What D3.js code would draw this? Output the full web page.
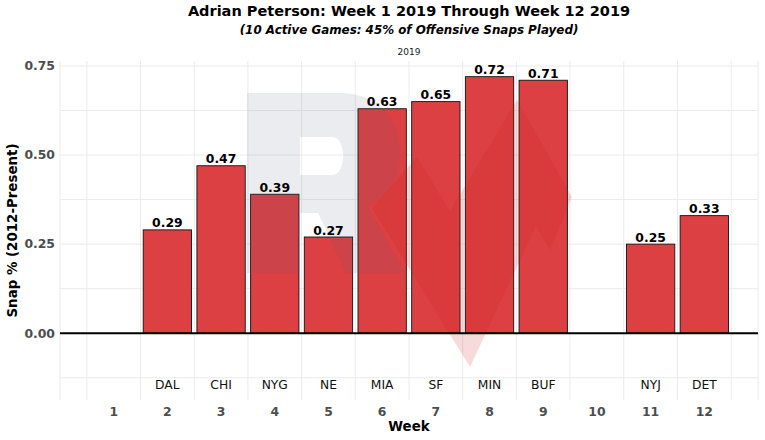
<!DOCTYPE html>
<html>
<head>
<meta charset="utf-8">
<script src="https://cdn.jsdelivr.net/npm/d3@7"></script>
<style>
  html, body { margin: 0; padding: 0; background: #fff; }
  svg { display: block; font-family: "DejaVu Sans", sans-serif; }
</style>
</head>
<body>
<svg id="chart" width="765" height="440"></svg>
<script>
// ---- data ----
const weeks = [2, 3, 4, 5, 6, 7, 8, 9, 11, 12];
const opponents = ["DAL", "CHI", "NYG", "NE", "MIA", "SF", "MIN", "BUF", "NYJ", "DET"];
const snapPct = [0.29, 0.47, 0.39, 0.27, 0.63, 0.65, 0.72, 0.71, 0.25, 0.33];
const weekTicks = [1, 2, 3, 4, 5, 6, 7, 8, 9, 10, 11, 12];
const yTicks = [0, 0.25, 0.5, 0.75];
const yMinorTicks = [-0.125, 0.125, 0.375, 0.625];
const titleText = "Adrian Peterson: Week 1 2019 Through Week 12 2019";
const subtitleText = "(10 Active Games: 45% of Offensive Snaps Played)";
const stripText = "2019";

const data = weeks.map((w, i) => ({ week: w, opp: opponents[i], pct: snapPct[i] }));

// ---- layout ----
const svg = d3.select("#chart");
const L = 60, R = 758, T = 61, B = 400;
const x = d3.scaleLinear().domain([0, 13]).range([L, R]);
const y = d3.scaleLinear().domain([-0.1875, 0.764]).range([B, T]);
const barW = (x(1) - x(0)) * 0.9;
const labelY = -0.145;

// grid
const grid = svg.append("g");
const vLines = [0].concat(d3.range(0.5, 13, 1)).concat([13]);
grid.selectAll("line.v").data(vLines).enter().append("line")
  .attr("x1", d => x(d)).attr("x2", d => x(d))
  .attr("y1", T).attr("y2", B)
  .attr("stroke", "#ebebeb").attr("stroke-width", 1);
grid.selectAll("line.h").data(yTicks.concat(yMinorTicks)).enter().append("line")
  .attr("x1", L).attr("x2", R)
  .attr("y1", d => y(d)).attr("y2", d => y(d))
  .attr("stroke", "#ebebeb").attr("stroke-width", 1);

// bars
svg.append("g").selectAll("rect").data(data).enter().append("rect")
  .attr("x", d => x(d.week) - barW / 2)
  .attr("width", barW)
  .attr("y", d => y(d.pct))
  .attr("height", d => y(0) - y(d.pct))
  .attr("fill", "#dc4042")
  .attr("stroke", "#111")
  .attr("stroke-width", 0.9);

// watermark (RotoViz style logo) drawn on top, translucent
const wm = svg.append("g").attr("pointer-events", "none");
wm.append("path")
  .attr("d", "M247,93 L338,93 C382,93 400,122 400,152 C400,180 388,198 368,206 L405,273 L346,273 L318,213 L300,213 L300,273 L247,273 Z " +
             "M300,137 L332,137 C347,137 347,175 332,175 L300,175 Z")
  .attr("fill-rule", "evenodd")
  .attr("fill", "#58617a")
  .attr("opacity", 0.12);
wm.append("path")
  .attr("d", "M372,208 L417,157 L450,211 L517,100 L572,197 L550,250 L536,226 L470,367 Z")
  .attr("fill", "#cd1e1e")
  .attr("opacity", 0.16);

// zero line
svg.append("line")
  .attr("x1", L).attr("x2", R)
  .attr("y1", y(0)).attr("y2", y(0))
  .attr("stroke", "#000").attr("stroke-width", 2);

// value labels
svg.append("g").selectAll("text").data(data).enter().append("text")
  .attr("x", d => x(d.week))
  .attr("y", d => y(d.pct) - 2.5)
  .attr("text-anchor", "middle")
  .attr("font-size", 12.4).attr("font-weight", "bold").attr("fill", "#000")
  .text(d => d.pct.toFixed(2));

// opponent labels
svg.append("g").selectAll("text").data(data).enter().append("text")
  .attr("x", d => x(d.week))
  .attr("y", y(labelY))
  .attr("dy", "0.35em")
  .attr("text-anchor", "middle")
  .attr("font-size", 12.3).attr("fill", "#111")
  .text(d => d.opp);

// y axis tick labels
svg.append("g").selectAll("text").data(yTicks).enter().append("text")
  .attr("x", 55)
  .attr("y", d => y(d))
  .attr("dy", "0.35em")
  .attr("text-anchor", "end")
  .attr("font-size", 12.4).attr("font-weight", "bold").attr("fill", "#4d4d4d")
  .text(d => d3.format(".2f")(d));

// x axis tick labels
svg.append("g").selectAll("text").data(weekTicks).enter().append("text")
  .attr("x", d => x(d))
  .attr("y", 411.5)
  .attr("dy", "0.35em")
  .attr("text-anchor", "middle")
  .attr("font-size", 12.4).attr("font-weight", "bold").attr("fill", "#4d4d4d")
  .text(d => d);

// axis titles
svg.append("text")
  .attr("x", (L + R) / 2).attr("y", 426)
  .attr("dy", "0.35em")
  .attr("text-anchor", "middle")
  .attr("font-size", 13.4).attr("font-weight", "bold").attr("fill", "#000")
  .text("Week");
svg.append("text")
  .attr("transform", "translate(12," + ((T + B) / 2) + ") rotate(-90)")
  .attr("dy", "0.35em")
  .attr("text-anchor", "middle")
  .attr("font-size", 13.4).attr("font-weight", "bold").attr("fill", "#000")
  .text("Snap % (2012-Present)");

// titles
svg.append("text")
  .attr("x", (L + R) / 2).attr("y", 11)
  .attr("dy", "0.35em")
  .attr("text-anchor", "middle")
  .attr("font-size", 14.5).attr("font-weight", "bold").attr("fill", "#000")
  .text(titleText);
svg.append("text")
  .attr("x", (L + R) / 2).attr("y", 30)
  .attr("dy", "0.35em")
  .attr("text-anchor", "middle")
  .attr("font-size", 11.9).attr("font-weight", "bold").attr("font-style", "italic").attr("fill", "#000")
  .text(subtitleText);
svg.append("text")
  .attr("x", (L + R) / 2).attr("y", 52)
  .attr("dy", "0.35em")
  .attr("text-anchor", "middle")
  .attr("font-size", 9).attr("fill", "#1a1a1a")
  .text(stripText);
</script>
</body>
</html>
